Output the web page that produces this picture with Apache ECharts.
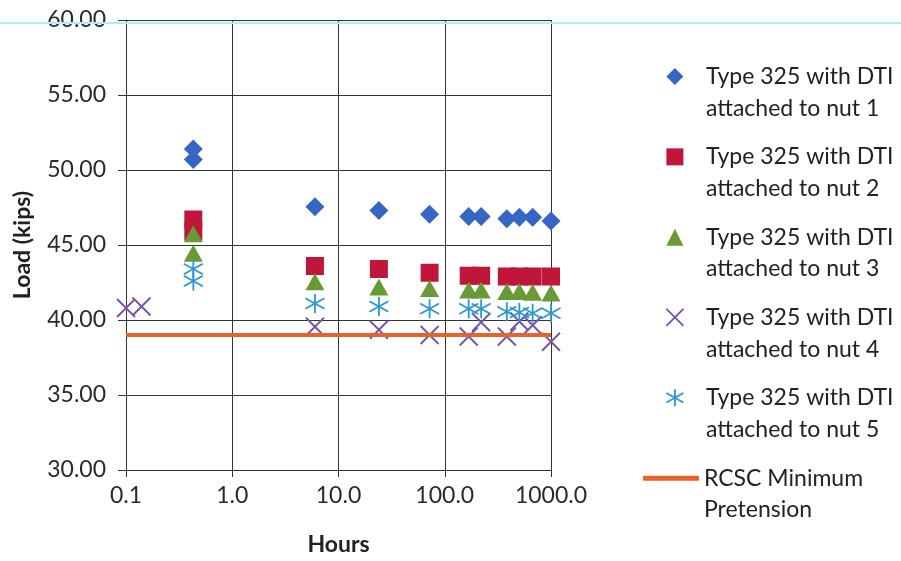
<!DOCTYPE html>
<html>
<head>
<meta charset="utf-8">
<script src="https://cdn.jsdelivr.net/npm/echarts@6/dist/echarts.min.js"></script>
<style>html,body{margin:0;padding:0;background:#fff}#c{width:901px;height:561px}</style>
</head>
<body>
<div id="c"></div>
<script>
// ---- data ----
const seriesNames = [
  'Type 325 with DTI attached to nut 1',
  'Type 325 with DTI attached to nut 2',
  'Type 325 with DTI attached to nut 3',
  'Type 325 with DTI attached to nut 4',
  'Type 325 with DTI attached to nut 5',
  'RCSC Minimum Pretension'
];
const hoursA = [0.43, 0.43, 6, 24, 72, 168, 220, 384, 504, 672, 1000];
const hoursNut4 = [0.1, 0.14, 6, 24, 72, 168, 220, 384, 504, 672, 1000];
const nut1 = [51.4, 50.7, 47.55, 47.3, 47.05, 46.9, 46.9, 46.75, 46.85, 46.85, 46.6];
const nut2 = [46.7, 45.9, 43.6, 43.4, 43.15, 42.95, 42.95, 42.9, 42.9, 42.9, 42.9];
const nut3 = [45.75, 44.45, 42.55, 42.2, 42.1, 42.0, 42.0, 41.9, 41.9, 41.85, 41.8];
const nut4 = [40.8, 40.9, 39.55, 39.35, 39.0, 38.9, 39.85, 38.9, 39.9, 39.65, 38.55];
const nut5 = [43.4, 42.6, 41.1, 40.9, 40.75, 40.75, 40.75, 40.55, 40.5, 40.45, 40.45];
const rcscHours = [0.1, 1000];
const rcscLoad = [39, 39];
const xTickValues = [0.1, 1, 10, 100, 1000];
const xTickLabels = ['0.1', '1.0', '10.0', '100.0', '1000.0'];
const yTickLabels = ['30.00', '35.00', '40.00', '45.00', '50.00', '55.00', '60.00'];

// ---- styling ----
const FONT = 'Lato';
const colors = ['#3566c4', '#c0163a', '#689a36', '#7652a6', '#2a98d4', '#e8622a'];
const xPath = 'path://M0,0L10,10M10,0L0,10';
const starPath = 'path://M5,0L5,10M0,2.2L10,7.8M10,2.2L0,7.8';
const pair = (xs, ys) => xs.map((x, i) => [x, ys[i]]);
const splitName = n => {
  const k = n.indexOf(' attached');
  return k > 0 ? [n.slice(0, k), n.slice(k + 1)] : ['RCSC Minimum', 'Pretension'];
};

const chart = echarts.init(document.getElementById('c'), null, {renderer: 'canvas'});
const LH = 31.7;

function legendFmt(spacer) {
  return name => {
    const [a, b] = splitName(name);
    const s = spacer ? '{s|}' : '';
    return '{s|}\n' + s + '{t|' + a + '}\n' + s + '{t|' + b + '}';
  };
}
const richCfg = {
  s: {width: 17.5, lineHeight: LH, height: LH},
  t: {fontFamily: FONT, fontSize: 23, color: '#222', lineHeight: LH, height: LH}
};

const option = {
  backgroundColor: '#ffffff',
  animation: false,
  grid: {left: 126, right: 350, top: 20, bottom: 91, containLabel: false},
  xAxis: {
    type: 'log', logBase: 10, min: 0.1, max: 1000,
    name: 'Hours', nameLocation: 'middle', nameGap: 63,
    nameTextStyle: {fontFamily: FONT, fontSize: 23, fontWeight: 'bold', color: '#222'},
    axisLine: {show: true, lineStyle: {color: '#333', width: 1}},
    axisTick: {show: true, inside: false, length: 7, lineStyle: {color: '#333'}},
    minorTick: {show: false},
    splitLine: {show: true, lineStyle: {color: '#333', width: 1}},
    axisLabel: {
      fontFamily: FONT, fontSize: 23, color: '#2a2a2a', margin: 14,
      formatter: v => {
        const i = xTickValues.findIndex(t => Math.abs(Math.log10(t) - Math.log10(v)) < 1e-6);
        return i >= 0 ? xTickLabels[i] : '';
      }
    }
  },
  yAxis: {
    type: 'value', min: 30, max: 60, interval: 5,
    name: 'Load (kips)', nameLocation: 'middle', nameGap: 92,
    nameTextStyle: {fontFamily: FONT, fontSize: 23, fontWeight: 'bold', color: '#222'},
    axisLine: {show: true, lineStyle: {color: '#333', width: 1}},
    axisTick: {show: true, inside: false, length: 8, lineStyle: {color: '#333'}},
    splitLine: {show: true, lineStyle: {color: '#333', width: 1}},
    axisLabel: {
      fontFamily: FONT, fontSize: 23, color: '#2a2a2a', margin: 20,
      formatter: v => yTickLabels[Math.round((v - 30) / 5)]
    }
  },
  legend: [
    {
      orient: 'vertical', left: 665.5, top: 29, padding: 0,
      itemWidth: 17, itemHeight: 17, itemGap: LH * 2.533 - LH * 3,
      data: [
        {name: seriesNames[0], icon: 'diamond', itemStyle: {color: colors[0], opacity: 1}},
        {name: seriesNames[1], icon: 'rect', itemStyle: {color: colors[1], opacity: 1}},
        {name: seriesNames[2], icon: 'triangle', itemStyle: {color: colors[2], opacity: 1}},
        {name: seriesNames[3], icon: xPath, itemStyle: {color: 'rgba(0,0,0,0)', borderColor: colors[3], borderWidth: 1.8, opacity: 1}},
        {name: seriesNames[4], icon: starPath, itemStyle: {color: 'rgba(0,0,0,0)', borderColor: colors[4], borderWidth: 1.8, opacity: 1}}
      ],
      formatter: legendFmt(true),
      textStyle: {rich: richCfg}
    },
    {
      orient: 'vertical', left: 643, top: 478.3 - 1.5 * LH, padding: 0,
      itemWidth: 56, itemHeight: 5,
      data: [{name: seriesNames[5], icon: 'roundRect'}],
      formatter: legendFmt(false),
      textStyle: {rich: richCfg}
    }
  ],
  graphic: [{
    type: 'line', silent: true, z: 100,
    shape: {x1: 0, y1: 23, x2: 901, y2: 23},
    style: {stroke: '#aeeef2', lineWidth: 2}
  }],
  series: [
    {name: seriesNames[0], type: 'scatter', symbol: 'diamond', symbolSize: 19,
     itemStyle: {color: colors[0], opacity: 1}, data: pair(hoursA, nut1)},
    {name: seriesNames[1], type: 'scatter', symbol: 'rect', symbolSize: 18,
     itemStyle: {color: colors[1], opacity: 1}, data: pair(hoursA, nut2)},
    {name: seriesNames[2], type: 'scatter', symbol: 'triangle', symbolSize: [19, 17],
     itemStyle: {color: colors[2], opacity: 1}, data: pair(hoursA, nut3)},
    {name: seriesNames[3], type: 'scatter', symbol: xPath, symbolSize: 18, symbolKeepAspect: true,
     itemStyle: {color: 'rgba(0,0,0,0)', borderColor: colors[3], borderWidth: 1.8, opacity: 1}, data: pair(hoursNut4, nut4)},
    {name: seriesNames[4], type: 'scatter', symbol: starPath, symbolSize: 19, symbolKeepAspect: true,
     itemStyle: {color: 'rgba(0,0,0,0)', borderColor: colors[4], borderWidth: 1.8, opacity: 1}, data: pair(hoursA, nut5)},
    {name: seriesNames[5], type: 'line', symbol: 'none', z: 3,
     lineStyle: {color: colors[5], width: 4}, itemStyle: {color: colors[5]},
     data: pair(rcscHours, rcscLoad)}
  ]
};
chart.setOption(option);
</script>
</body>
</html>
